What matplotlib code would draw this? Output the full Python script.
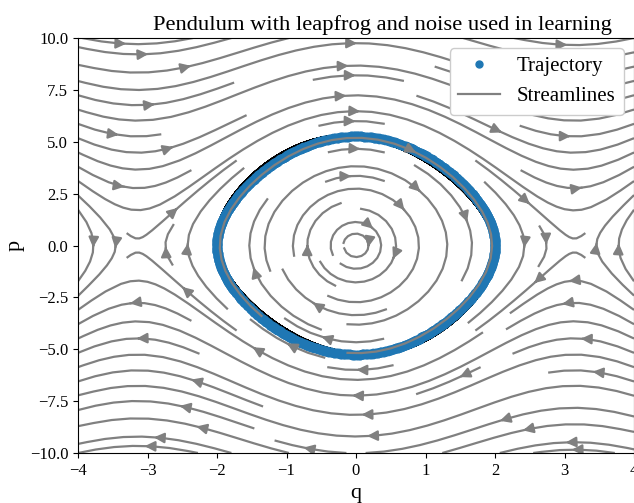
import numpy as np
import matplotlib
matplotlib.use('Agg')
import matplotlib.pyplot as plt
from matplotlib.lines import Line2D

plt.rcParams['font.family'] = ['Liberation Serif', 'DejaVu Serif']
plt.rcParams['mathtext.fontset'] = 'stix'

# pendulum parameters and initial state
g = 9.81
q0 = 2.0
p0 = 0.0
dt = 0.05
n_steps = 800

# plot window
q_lim = [-4, 4]
p_lim = [-10, 10]
x_ticks = [-4, -3, -2, -1, 0, 1, 2, 3, 4]
y_ticks = [-10.0, -7.5, -5.0, -2.5, 0.0, 2.5, 5.0, 7.5, 10.0]


def force(q):
    return -g * np.sin(q)


# leapfrog integration: full-step q, half-step p
q_traj = [q0]
p_traj = [p0]
p_half = [p0 + 0.5 * dt * force(q0)]
q, p = q0, p0
for i in range(n_steps):
    ph = p + 0.5 * dt * force(q)
    q = q + dt * ph
    p = ph + 0.5 * dt * force(q)
    q_traj.append(q)
    p_traj.append(p)
    p_half.append(p + 0.5 * dt * force(q))

# vector field for the streamlines
Q, P = np.meshgrid(np.linspace(q_lim[0], q_lim[1], 100), np.linspace(p_lim[0], p_lim[1], 100))
dQ = P
dP = force(Q)

fig = plt.figure(figsize=(6.34, 5.03), dpi=100)
ax = fig.add_axes([78 / 634, 50 / 503, 556 / 634, 415 / 503])

ax.plot(q_traj, p_half, color='black', lw=3, zorder=1)
ax.plot(q_traj, p_traj, 'o', color='#1f77b4', ms=7, mew=0, zorder=1.5)
ax.streamplot(Q, P, dQ, dP, color='grey', linewidth=1.6, density=1, arrowsize=1.5, zorder=2)

ax.set_xlim(q_lim)
ax.set_ylim(p_lim)
ax.set_xticks(x_ticks)
ax.set_yticks(y_ticks)
ax.tick_params(labelsize=12)
ax.set_xlabel('q', fontsize=16)
ax.set_ylabel('p', fontsize=16)
ax.set_title('Pendulum with leapfrog and noise used in learning', fontsize=16.2, x=0.547)

handles = [
    Line2D([], [], marker='o', ls='', color='#1f77b4', ms=5),
    Line2D([], [], color='grey', lw=1.6),
]
ax.legend(handles, ['Trajectory', 'Streamlines'], loc='upper right', fontsize=15, framealpha=1)

fig.savefig('out.png', dpi=100)
